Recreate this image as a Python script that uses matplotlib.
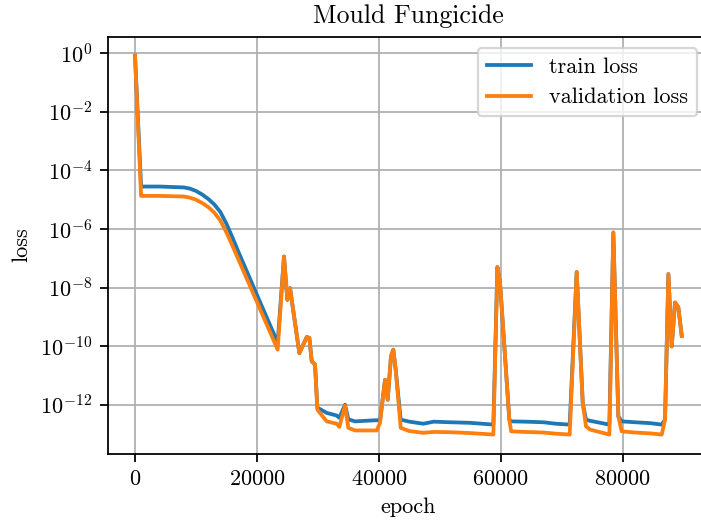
import numpy as np
import matplotlib
matplotlib.use("Agg")
import matplotlib.pyplot as plt
from matplotlib.ticker import NullLocator

plt.rcParams.update({
    "font.family": "serif",
    "font.serif": ["cmr10"],
    "mathtext.fontset": "cm",
    "axes.formatter.use_mathtext": True,
    "axes.unicode_minus": False,
})

title = "Mould Fungicide"
series_names = ["train loss", "validation loss"]
x_ticks = [0, 20000, 40000, 60000, 80000]
y_ticks = [1e0, 1e-2, 1e-4, 1e-6, 1e-8, 1e-10, 1e-12]

epochs = [0, 1000, 4000, 8000, 9000, 10000, 11000, 12000, 13000, 14000, 15000,
          16000, 17000, 20000, 23400,
          24440, 24990, 25430, 26960, 28170, 28600, 28990, 29530, 29910, 31440,
          33080, 33520, 34450, 34990, 36090, 39650, 40190, 41010, 41450, 41990,
          42370, 42760, 43580, 45000, 47290, 49000, 51670, 55000, 58780, 59440,
          59880, 61400, 61700, 64000, 67000, 69000, 71300, 72450, 73440, 73980,
          74640, 77810, 78460, 79280, 79830, 82000, 84500, 86400, 86940, 87490,
          88040, 88580, 89120, 89680]

# loss values, stored as base-10 exponents
train_loss_log10 = [-0.08, -4.55, -4.55, -4.58, -4.62, -4.70, -4.82, -4.97, -5.16, -5.42, -5.82,
                    -6.30, -6.80, -8.25, -9.88,
                    -6.94, -8.42, -8.02, -10.24, -9.69, -9.72, -10.52, -10.63, -12.10, -12.28,
                    -12.37, -12.45, -12.00, -12.50, -12.57, -12.53, -12.55, -11.15, -11.83, -10.35,
                    -10.12, -10.81, -12.51, -12.58, -12.65, -12.58, -12.60, -12.62, -12.68, -7.30,
                    -7.85, -12.51, -12.57, -12.58, -12.60, -12.65, -12.68, -7.47, -11.94, -12.51,
                    -12.55, -12.68, -6.12, -12.40, -12.57, -12.60, -12.63, -12.68, -12.51, -7.54,
                    -10.01, -8.51, -8.67, -9.65]

val_loss_log10 = [-0.08, -4.87, -4.87, -4.89, -4.93, -5.00, -5.11, -5.25, -5.44, -5.71, -6.12,
                  -6.58, -7.06, -8.49, -10.12,
                  -6.94, -8.42, -8.02, -10.24, -9.69, -9.72, -10.52, -10.63, -12.17, -12.57,
                  -12.65, -12.76, -12.03, -12.79, -12.88, -12.88, -12.62, -11.15, -11.83, -10.35,
                  -10.12, -10.81, -12.79, -12.90, -12.96, -12.93, -12.94, -12.97, -13.02, -7.30,
                  -7.85, -12.51, -12.91, -12.93, -12.95, -12.99, -13.02, -7.47, -11.94, -12.74,
                  -12.85, -13.02, -6.12, -12.40, -12.91, -12.95, -12.98, -13.02, -12.51, -7.54,
                  -10.01, -8.51, -8.67, -9.65]

train_loss = 10.0 ** np.array(train_loss_log10)
val_loss = 10.0 ** np.array(val_loss_log10)

W, H = 701, 523
dpi = 160
fig = plt.figure(figsize=(W / dpi, H / dpi), dpi=dpi)
ax = fig.add_axes([107.67 / W, (H - 453.5) / H, 601.4 / W, (453.5 - 36.7) / H])

ax.plot(epochs, train_loss, color="#1f77b4", lw=1.7, label=series_names[0])
ax.plot(epochs, val_loss, color="#ff7f0e", lw=1.7, label=series_names[1])
ax.set_yscale("log")
ax.set_yticks(y_ticks)
ax.yaxis.set_minor_locator(NullLocator())
ax.set_xticks(x_ticks)
ax.grid(True)
ax.set_title(title, fontsize=11.6)
ax.set_xlabel("epoch")
ax.set_ylabel("loss")
ax.legend(loc="upper right", bbox_to_anchor=(697 / W, 1 - 48.3 / H),
          bbox_transform=fig.transFigure, borderaxespad=0)

fig.savefig("out.png", dpi=dpi)
